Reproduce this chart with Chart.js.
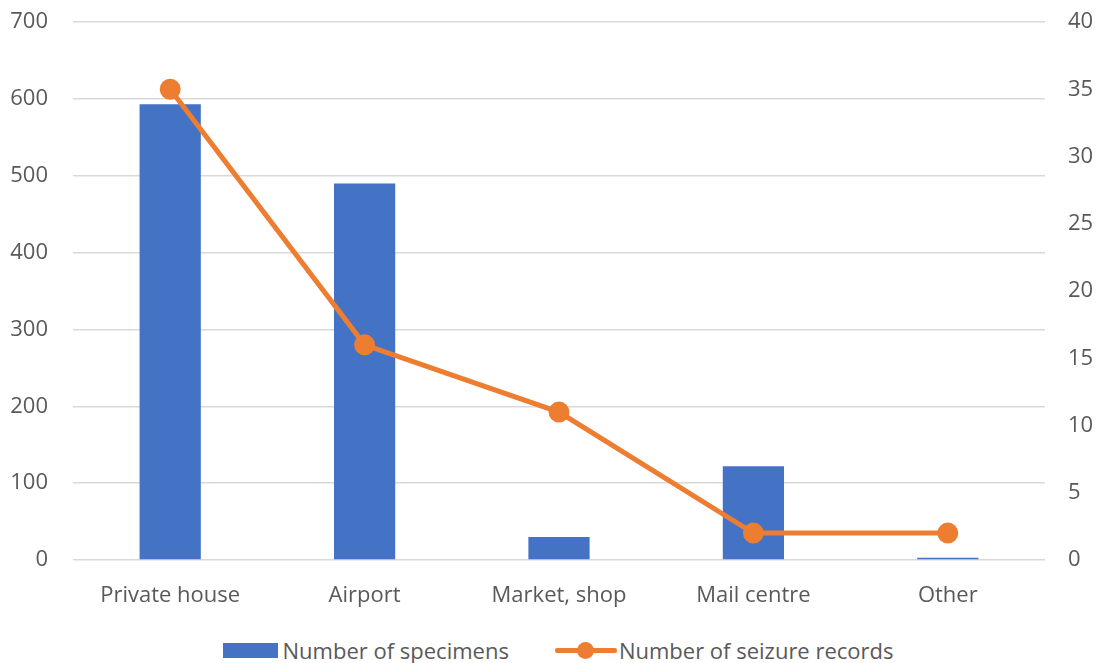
<!DOCTYPE html>
<html>
<head>
<meta charset="utf-8">
<script src="https://cdn.jsdelivr.net/npm/chart.js@4"></script>
<style>
  html, body { margin: 0; padding: 0; background: #fff; }
  #wrap { position: relative; width: 1098px; height: 663px; }
  #chartBox { position: absolute; left: 0; top: 0; width: 1098px; height: 610px; }
  #legend { position: absolute; left: 18px; top: 636px; width: 1080px; height: 28px;
    display: flex; justify-content: center; align-items: center;
    font-family: "Open Sans", "Liberation Sans", sans-serif; font-size: 22px; color: #595959; }
  .item { display: flex; align-items: center; margin: 0 23px; }
  .swatch-bar { width: 55px; height: 15px; background: #4472c4; margin-right: 5px; }
  .swatch-line { position: relative; width: 62px; height: 20px; margin-right: 2px; }
  .swatch-line::before { content: ""; position: absolute; left: 0; right: 0; top: 8px; height: 5px; background: #ed7d31; border-radius: 2px; }
  .swatch-line::after { content: ""; position: absolute; left: 22px; top: 2px; width: 17px; height: 17px; background: #ed7d31; border-radius: 50%; }
</style>
</head>
<body>
<div id="wrap">
  <div id="chartBox"><canvas id="seizureChart"></canvas></div>
  <div id="legend">
    <div class="item"><span class="swatch-bar"></span>Number of specimens</div>
    <div class="item"><span class="swatch-line"></span>Number of seizure records</div>
  </div>
</div>
<script>
// data
const categories = ['Private house', 'Airport', 'Market, shop', 'Mail centre', 'Other'];
const specimens = [593, 490, 30, 122, 3];
const seizureRecords = [35, 16, 11, 2, 2];

const tickColor = '#595959';
const gridColor = '#d9d9d9';
const fontFamily = '"Open Sans", "Liberation Sans", sans-serif';

// pin the axis boxes so the plot area lands where the reference has it
const fixSize = (width, height) => scale => {
    if (width) scale.width = width;
    if (height) scale.height = height;
    scale.paddingTop = 0;
    scale.paddingBottom = 0;
    scale.paddingLeft = 0;
    scale.paddingRight = 0;
};

document.addEventListener('DOMContentLoaded', () => {
    const ctx = document.getElementById('seizureChart').getContext('2d');
    new Chart(ctx, {
        data: {
            labels: categories,
            datasets: [{
                type: 'line',
                label: 'Number of seizure records',
                data: seizureRecords,
                yAxisID: 'yRight',
                borderColor: '#ed7d31',
                backgroundColor: '#ed7d31',
                borderWidth: 5,
                pointRadius: 8,
                pointHoverRadius: 8,
                tension: 0,
                order: 0
            }, {
                type: 'bar',
                label: 'Number of specimens',
                data: specimens,
                yAxisID: 'yLeft',
                backgroundColor: '#4472c4',
                categoryPercentage: 1,
                barPercentage: 0.315,
                order: 1
            }]
        },
        options: {
            responsive: true,
            maintainAspectRatio: false,
            animation: false,
            layout: { padding: { left: 0, right: 0, top: 22, bottom: 0 } },
            plugins: {
                legend: { display: false },
                tooltip: { enabled: false }
            },
            scales: {
                x: {
                    grid: { display: false },
                    border: { display: false },
                    ticks: { color: tickColor, font: { family: fontFamily, size: 22 }, padding: 15, maxRotation: 0 },
                    afterFit: fixSize(0, 50)
                },
                yLeft: {
                    position: 'left',
                    min: 0,
                    max: 700,
                    ticks: { stepSize: 100, color: tickColor, font: { family: fontFamily, size: 22 }, padding: 25 },
                    grid: { color: gridColor, lineWidth: 1.5, drawTicks: false },
                    border: { display: false },
                    afterFit: fixSize(73, 0)
                },
                yRight: {
                    position: 'right',
                    min: 0,
                    max: 40,
                    ticks: { stepSize: 5, color: tickColor, font: { family: fontFamily, size: 22 }, padding: 23 },
                    grid: { display: false, drawTicks: false },
                    border: { display: false },
                    afterFit: fixSize(53, 0)
                }
            }
        }
    });
});
</script>
</body>
</html>
